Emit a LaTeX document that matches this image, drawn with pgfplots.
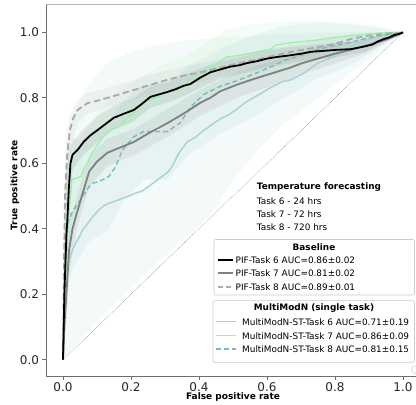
\documentclass[border=0pt]{standalone}
\usepackage{pgfplots}
\pgfplotsset{compat=1.18}
\usepackage{fontspec}
\setmainfont{DejaVu Sans}
\definecolor{tealA}{RGB}{166,208,210}
\definecolor{greenB}{RGB}{160,240,170}
\definecolor{tealC}{RGB}{120,185,190}
\definecolor{grayB}{RGB}{128,128,128}
\definecolor{grayC}{RGB}{169,169,169}
\definecolor{spine}{RGB}{110,110,110}
\begin{document}
\begin{tikzpicture}
\useasboundingbox (-46bp,-29bp) rectangle (370bp,376bp);
\begin{axis}[
  at={(0,0)}, anchor=south west,
  scale only axis, width=374bp, height=371.7bp,
  xmin=-0.05, xmax=1.05, ymin=-0.05, ymax=1.086,
  axis x line*=bottom, axis y line*=left,
  axis line style={spine, line width=0.8pt},
  xtick={0,0.2,0.4,0.6,0.8,1.0}, ytick={0,0.2,0.4,0.6,0.8,1.0},
  tick align=outside, major tick length=3.5bp,
  tick style={spine, line width=0.8pt},
  minor tick num=0,
  /pgf/number format/assume math mode=true,
  /pgf/number format/fixed, /pgf/number format/fixed zerofill, /pgf/number format/precision=1,
  ticklabel style={font=\fontsize{12bp}{14bp}\selectfont, text=black!85},
  xticklabel style={yshift=0.5bp},
  xlabel={\textbf{False positive rate}},
  ylabel={\textbf{True positive rate}},
  xlabel style={font=\fontsize{9bp}{11bp}\selectfont, at={(rel axis cs:0.5,0)}, anchor=center, yshift=-21.5bp},
  ylabel style={font=\fontsize{9bp}{11bp}\selectfont, at={(rel axis cs:-0.0829,0.513)}, anchor=center},
]
% ---------- bands ----------
% MultiModN Task 6
\addplot[draw=none, fill=tealA, fill opacity=0.12] coordinates {
(0,0) (0.004,0.45) (0.009,0.6) (0.018,0.7) (0.038,0.76) (0.058,0.81) (0.106,0.88) (0.135,0.91) (0.213,0.945) (0.292,0.965) (0.365,0.975) (0.462,0.985) (0.559,0.99) (0.646,0.995) (0.749,1.0) (0.847,1.0) (1,1)
(0.944,0.95) (0.85,0.88) (0.75,0.8) (0.65,0.72) (0.573,0.64) (0.5,0.55) (0.433,0.44) (0.287,0.305) (0.15,0.17) (0.05,0.06) (0,0)} -- cycle;
% MultiModN Task 7
\addplot[draw=none, fill=greenB, fill opacity=0.12] coordinates {
(0,0) (0.005,0.35) (0.01,0.5) (0.026,0.68) (0.053,0.67) (0.092,0.74) (0.14,0.8) (0.208,0.85) (0.278,0.895) (0.354,0.925) (0.433,0.975) (0.482,1.01) (0.559,1.025) (0.667,1.035) (0.749,1.035) (0.847,1.03) (0.924,1.02) (1,1)
(0.924,0.97) (0.847,0.95) (0.749,0.92) (0.667,0.88) (0.559,0.85) (0.482,0.835) (0.433,0.8) (0.354,0.745) (0.278,0.715) (0.208,0.665) (0.14,0.61) (0.092,0.55) (0.053,0.47) (0.026,0.42) (0.01,0.2) (0.005,0.08) (0,0)} -- cycle;
% MultiModN Task 8
\addplot[draw=none, fill=tealC, fill opacity=0.1] coordinates {
(0,0) (0.004,0.4) (0.009,0.58) (0.028,0.63) (0.077,0.69) (0.135,0.72) (0.175,0.79) (0.237,0.84) (0.307,0.845) (0.374,0.9) (0.462,0.95) (0.559,0.99) (0.652,1.02) (0.749,1.03) (0.847,1.025) (0.924,1.015) (1,1)
(0.924,0.95) (0.847,0.9) (0.749,0.86) (0.652,0.8) (0.559,0.74) (0.462,0.69) (0.374,0.63) (0.307,0.55) (0.237,0.55) (0.175,0.48) (0.135,0.4) (0.077,0.36) (0.028,0.28) (0.009,0.2) (0.004,0.07) (0,0)} -- cycle;
% PIF Task 6
\addplot[draw=none, fill=black, fill opacity=0.08] coordinates {
(0,0) (0.004,0.33) (0.01,0.55) (0.017,0.64) (0.028,0.665) (0.061,0.705) (0.102,0.745) (0.149,0.775) (0.208,0.80) (0.257,0.835) (0.307,0.85) (0.355,0.87) (0.404,0.89) (0.46,0.91) (0.52,0.925) (0.6,0.945) (0.667,0.955) (0.73,0.962) (0.808,0.968) (0.886,0.975) (0.944,0.99) (1,1)
(0.944,0.97) (0.886,0.94) (0.808,0.925) (0.73,0.918) (0.667,0.905) (0.6,0.893) (0.52,0.872) (0.46,0.858) (0.404,0.83) (0.355,0.805) (0.307,0.785) (0.257,0.77) (0.208,0.728) (0.149,0.703) (0.102,0.665) (0.061,0.628) (0.028,0.58) (0.017,0.42) (0.01,0.26) (0.004,0.1) (0,0)} -- cycle;
% PIF Task 7
\addplot[draw=none, fill=grayB, fill opacity=0.12] coordinates {
(0,0) (0.004,0.2) (0.009,0.28) (0.018,0.42) (0.038,0.49) (0.058,0.56) (0.077,0.62) (0.13,0.675) (0.208,0.705) (0.306,0.765) (0.404,0.825) (0.511,0.88) (0.608,0.91) (0.7,0.94) (0.8,0.965) (0.9,0.985) (1,1)
(0.9,0.94) (0.8,0.905) (0.7,0.87) (0.608,0.835) (0.511,0.8) (0.404,0.745) (0.306,0.68) (0.208,0.625) (0.13,0.59) (0.077,0.53) (0.058,0.46) (0.038,0.39) (0.018,0.26) (0.009,0.1) (0.004,0.04) (0,0)} -- cycle;
% PIF Task 8
\addplot[draw=none, fill=grayC, fill opacity=0.12] coordinates {
(0,0) (0.003,0.45) (0.006,0.62) (0.012,0.7) (0.02,0.75) (0.043,0.795) (0.072,0.815) (0.111,0.825) (0.208,0.855) (0.306,0.885) (0.404,0.905) (0.511,0.93) (0.608,0.95) (0.749,0.975) (0.847,0.995) (1,1)
(0.847,0.965) (0.749,0.935) (0.608,0.9) (0.511,0.88) (0.404,0.85) (0.306,0.825) (0.208,0.795) (0.111,0.765) (0.072,0.75) (0.043,0.725) (0.02,0.64) (0.012,0.53) (0.006,0.35) (0.003,0.15) (0,0)} -- cycle;
% ---------- chance diagonal ----------
\addplot[black!70, line width=0.4pt, densely dotted] coordinates {(0,0) (1,1)};
% ---------- curves ----------
% MultiModN Task 6
\addplot[tealA, line width=1.4pt] coordinates {
(0,0) (0.004,0.12) (0.009,0.235) (0.018,0.305) (0.028,0.335) (0.038,0.357) (0.048,0.375) (0.058,0.397) (0.077,0.422) (0.09,0.44) (0.106,0.458) (0.12,0.47) (0.135,0.478) (0.155,0.485) (0.175,0.493) (0.195,0.5) (0.213,0.509) (0.232,0.515) (0.252,0.529) (0.272,0.545) (0.292,0.56) (0.31,0.575) (0.321,0.59) (0.34,0.63) (0.365,0.665) (0.39,0.68) (0.413,0.70) (0.44,0.72) (0.462,0.735) (0.49,0.75) (0.511,0.765) (0.535,0.785) (0.559,0.80) (0.585,0.815) (0.608,0.83) (0.646,0.85) (0.67,0.855) (0.70,0.87) (0.72,0.885) (0.749,0.906) (0.798,0.926) (0.82,0.94) (0.847,0.957) (0.895,0.977) (0.944,0.992) (1,1)};
% MultiModN Task 7
\addplot[greenB, line width=1.4pt] coordinates {
(0,0) (0.005,0.2) (0.01,0.35) (0.018,0.45) (0.026,0.55) (0.04,0.555) (0.053,0.56) (0.062,0.585) (0.072,0.60) (0.082,0.625) (0.092,0.641) (0.111,0.672) (0.125,0.69) (0.14,0.702) (0.16,0.71) (0.178,0.724) (0.19,0.74) (0.208,0.754) (0.237,0.785) (0.278,0.803) (0.307,0.818) (0.33,0.822) (0.354,0.834) (0.374,0.861) (0.404,0.870) (0.433,0.89) (0.46,0.91) (0.482,0.925) (0.52,0.93) (0.559,0.938) (0.608,0.948) (0.628,0.962) (0.667,0.968) (0.749,0.977) (0.8,0.985) (0.847,0.99) (0.924,0.998) (1,1)};
% MultiModN Task 8
\addplot[tealC, line width=1.4pt, dash pattern=on 5bp off 3bp] coordinates {
(0,0) (0.004,0.2) (0.009,0.407) (0.028,0.453) (0.058,0.499) (0.077,0.529) (0.09,0.54) (0.106,0.544) (0.135,0.56) (0.155,0.59) (0.175,0.641) (0.208,0.681) (0.237,0.697) (0.307,0.697) (0.325,0.71) (0.345,0.724) (0.374,0.77) (0.413,0.81) (0.462,0.835) (0.511,0.852) (0.559,0.872) (0.608,0.893) (0.652,0.915) (0.7,0.93) (0.749,0.948) (0.8,0.96) (0.847,0.97) (0.924,0.99) (1,1)};
% PIF Task 8
\addplot[grayC, line width=1.8pt, dash pattern=on 6.5bp off 3.5bp] coordinates {
(0,0) (0.003,0.3) (0.006,0.5) (0.012,0.62) (0.02,0.7) (0.03,0.738) (0.043,0.763) (0.072,0.784) (0.111,0.794) (0.16,0.809) (0.208,0.824) (0.257,0.84) (0.306,0.855) (0.354,0.868) (0.404,0.878) (0.433,0.885) (0.511,0.905) (0.56,0.915) (0.608,0.926) (0.667,0.94) (0.749,0.955) (0.798,0.965) (0.847,0.98) (0.895,0.99) (0.944,0.996) (1,1)};
% PIF Task 7
\addplot[grayB, line width=1.8pt] coordinates {
(0,0) (0.004,0.1) (0.009,0.183) (0.018,0.336) (0.028,0.4) (0.038,0.438) (0.058,0.509) (0.077,0.575) (0.1,0.605) (0.13,0.632) (0.16,0.645) (0.208,0.665) (0.257,0.695) (0.306,0.722) (0.355,0.752) (0.404,0.785) (0.433,0.8) (0.462,0.82) (0.511,0.84) (0.559,0.857) (0.608,0.873) (0.667,0.892) (0.70,0.905) (0.75,0.92) (0.8,0.935) (0.85,0.948) (0.9,0.962) (0.95,0.978) (0.98,0.99) (1,1)};
% PIF Task 6
\addplot[black, line width=1.8pt] coordinates {
(0,0) (0.004,0.2) (0.01,0.38) (0.013,0.43) (0.017,0.52) (0.022,0.6) (0.028,0.626) (0.043,0.641) (0.061,0.666) (0.08,0.685) (0.102,0.702) (0.125,0.72) (0.149,0.739) (0.18,0.752) (0.208,0.763) (0.23,0.78) (0.257,0.803) (0.28,0.81) (0.307,0.818) (0.33,0.826) (0.355,0.837) (0.374,0.842) (0.404,0.862) (0.433,0.878) (0.46,0.886) (0.49,0.895) (0.52,0.9) (0.54,0.906) (0.57,0.912) (0.6,0.92) (0.63,0.925) (0.667,0.93) (0.7,0.935) (0.73,0.941) (0.77,0.944) (0.808,0.947) (0.847,0.949) (0.886,0.957) (0.91,0.963) (0.925,0.972) (0.944,0.98) (0.96,0.985) (0.974,0.992) (0.99,0.996) (1,1)};
% top frame line
\draw[black!30, line width=0.8pt] (rel axis cs:0,1) -- (rel axis cs:1,1);
\end{axis}
% ---------- legends ----------
\begin{scope}[font=\fontsize{8.9bp}{10bp}\selectfont]
\node[anchor=west, inner sep=0pt] at (210.7bp,189bp) {\textbf{Temperature forecasting}};
\node[anchor=west, inner sep=0pt] at (210.7bp,175bp) {Task 6 - 24 hrs};
\node[anchor=west, inner sep=0pt] at (210.7bp,162bp) {Task 7 - 72 hrs};
\node[anchor=west, inner sep=0pt] at (210.7bp,149bp) {Task 8 - 720 hrs};
% box 1
\draw[black!20, line width=0.6pt, fill=white, fill opacity=0.8, rounded corners=2bp] (168bp,81bp) rectangle (368.5bp,136.5bp);
\node[inner sep=0pt] at (268bp,129.3bp) {\textbf{Baseline}};
\draw[black, line width=1.8pt] (172bp,116bp) -- (187bp,116bp);
\node[anchor=west, inner sep=0pt] at (189.5bp,116bp) {PIF-Task 6 AUC=0.86±0.02};
\draw[grayB, line width=1.8pt] (172bp,102.7bp) -- (187bp,102.7bp);
\node[anchor=west, inner sep=0pt] at (189.5bp,102.7bp) {PIF-Task 7 AUC=0.81±0.02};
\draw[grayC, line width=1.8pt, dash pattern=on 5bp off 3bp] (172bp,89.3bp) -- (187bp,89.3bp);
\node[anchor=west, inner sep=0pt] at (189.5bp,89.3bp) {PIF-Task 8 AUC=0.89±0.01};
% box 2
\draw[black!20, line width=0.6pt, fill=white, fill opacity=0.8, rounded corners=2bp] (167bp,13.7bp) rectangle (368.5bp,75.3bp);
\node[inner sep=0pt] at (268bp,67.7bp) {\textbf{MultiModN (single task)}};
\draw[tealA, line width=1.4pt] (170bp,54.3bp) -- (190bp,54.3bp);
\node[anchor=west, inner sep=0pt] at (196bp,54.3bp) {MultiModN-ST-Task 6 AUC=0.71±0.19};
\draw[greenB, line width=1.4pt] (170bp,40.3bp) -- (190bp,40.3bp);
\node[anchor=west, inner sep=0pt] at (196bp,40.3bp) {MultiModN-ST-Task 7 AUC=0.86±0.09};
\draw[tealC, line width=1.4pt, dash pattern=on 5bp off 3bp] (170bp,27bp) -- (190bp,27bp);
\node[anchor=west, inner sep=0pt] at (196bp,27bp) {MultiModN-ST-Task 8 AUC=0.81±0.15};
% small empty legend frame at lower right
\draw[black!20, line width=0.6pt, rounded corners=1.5bp] (366bp,3bp) rectangle (380bp,10bp);
\end{scope}
\end{tikzpicture}
\end{document}
